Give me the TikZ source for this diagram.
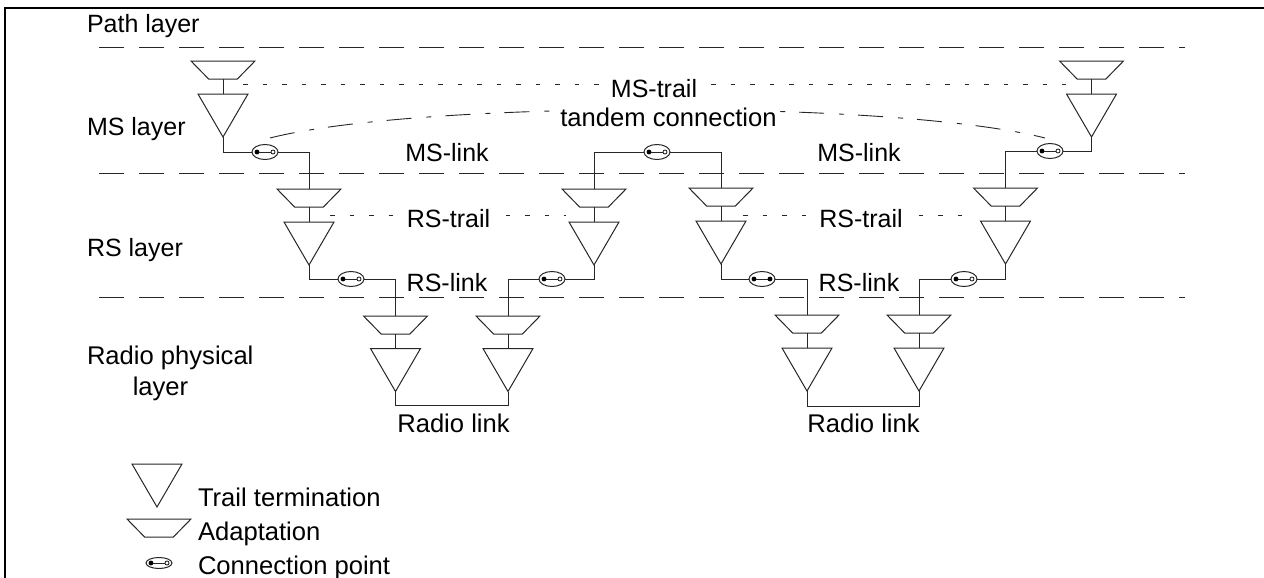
\documentclass[tikz,border=0pt]{standalone}
\usepackage{fontspec}
\setmainfont{Liberation Sans}
\usetikzlibrary{shapes.geometric}
\tikzset{
  x=1pt,y=-1pt,
  line/.style={line width=1pt,black!85},
  adapt/.style={draw,line width=1pt,black!85,trapezium,shape border rotate=180,trapezium stretches=true,
    trapezium left angle=58.5,trapezium right angle=58.5,minimum width=64pt,minimum height=18pt,inner sep=1pt,outer sep=0pt,anchor=north},
  term/.style={draw,line width=1pt,black!85,isosceles triangle,shape border rotate=-90,isosceles triangle stretches=true,
    minimum width=50pt,minimum height=43pt,inner sep=1pt,outer sep=0pt,anchor=north},
  conn/.style={draw,line width=1pt,black!85,ellipse,minimum width=26pt,minimum height=15pt,inner sep=0pt,outer sep=0pt},
  fulldot/.style={circle,fill=black,draw=black,minimum size=4.2pt,inner sep=0pt,line width=.6pt},
  opendot/.style={circle,fill=white,draw=black,minimum size=4pt,inner sep=0pt,line width=.7pt},
  layerline/.style={line width=1pt,black!85,dash pattern=on 25pt off 15pt},
  trailline/.style={line width=1pt,black!85,dash pattern=on 4.5pt off 15pt},
  tandem/.style={line width=.9pt,black!85,dash pattern=on 25pt off 15pt on 5pt off 14pt},
  lbl/.style={font=\fontsize{25}{27}\selectfont,inner sep=0pt,outer sep=0pt,text=black,anchor=base},
  biglbl/.style={lbl,font=\fontsize{25.6}{27}\selectfont},
  wlbl/.style={lbl,fill=white,inner xsep=8pt,inner ysep=1pt},
}
% chain: name, cx, adaptation top, triangle top
\newcommand{\chain}[4]{%
  \node[adapt] (#1a) at (#2,#3) {};
  \node[term] (#1t) at (#2,#4) {};
  \draw[line] (#1a.south) -- (#1t.north);
}
\newcommand{\cpoint}[3]{%
  \node[conn] (#1) at (#2,#3) {};
  \node[fulldot] (#1l) at ([xshift=-8pt]#1.center) {};
  \node[opendot] (#1r) at ([xshift=8pt]#1.center) {};
  \draw[line,line width=.8pt] (#1l) -- (#1r);
}
\begin{document}
\begin{tikzpicture}
\useasboundingbox (0,0) rectangle (1264,578);
\coordinate (fa) at (5,578); \coordinate (fb) at (5,8); \coordinate (fc) at (1264,8);
\draw[line width=2pt,black] (fa) -- (fb) -- (fc);
% layer lines
\coordinate (p0) at (99,47.5); \coordinate (p1) at (1185,47.5);
\coordinate (m0) at (99,173); \coordinate (m1) at (1185,173);
\coordinate (r0) at (99,297); \coordinate (r1) at (1185,297);
\draw[layerline] (p0) -- (p1);
\draw[layerline] (m0) -- (m1);
\draw[layerline] (r0) -- (r1);
% trails
\coordinate (mt0) at (243,85); \coordinate (mt1) at (1066,85);
\coordinate (rt0) at (330,215.5); \coordinate (rt1) at (566,215.5);
\coordinate (rt2) at (743,215.5); \coordinate (rt3) at (975,215.5);
\draw[trailline] (mt0) -- (mt1);
\draw[trailline] (rt0) -- (rt1);
\draw[trailline] (rt2) -- (rt3);
\coordinate (tc0) at (270,138); \coordinate (tc1) at (1045,138);
\draw[tandem] (tc0) .. controls (420,100) and (895,100) .. (tc1);
% chains
\chain{A}{223}{61}{94}
\chain{B}{309}{189}{222}
\chain{C}{395.5}{316}{348.5}
\chain{D}{508}{316}{348.5}
\chain{E}{594}{189}{222}
\chain{F}{721}{188}{221}
\chain{G}{807}{315}{348}
\chain{H}{919}{315}{348}
\chain{I}{1005.5}{188}{221}
\chain{J}{1091.5}{61}{94}
% connection points
\cpoint{ab}{265}{152}
\cpoint{bc}{351}{279}
\cpoint{de}{552}{279}
\cpoint{ef}{657}{152}
\node[conn] (fg) at (762,279) {};
\node[fulldot] (fgl) at ([xshift=-8pt]fg.center) {};
\node[fulldot] (fgr) at ([xshift=8pt]fg.center) {};
\draw[line,line width=.8pt] (fgl) -- (fgr);
\cpoint{hi}{964}{279}
\cpoint{ij}{1050}{151}
% connectors
\draw[line] (At.south) |- (ab.west);
\draw[line] (ab.east) -| (Ba.north);
\draw[line] (Bt.south) |- (bc.west);
\draw[line] (bc.east) -| (Ca.north);
\draw[line] (Ct.south) |- ++(0,14) -| (Dt.south);
\draw[line] (Da.north) |- (de.west);
\draw[line] (de.east) -| (Et.south);
\draw[line] (Ea.north) |- (ef.west);
\draw[line] (ef.east) -| (Fa.north);
\draw[line] (Ft.south) |- (fg.west);
\draw[line] (fg.east) -| (Ga.north);
\draw[line] (Gt.south) |- ++(0,15) -| (Ht.south);
\draw[line] (Ha.north) |- (hi.west);
\draw[line] (hi.east) -| (It.south);
\draw[line] (Ia.north) |- (ij.west);
\draw[line] (ij.east) -| (Jt.south);
% labels
\node[lbl,anchor=base west] (l1) at (87,33) {Path layer};
\node[lbl,anchor=base west] (l2) at (87,135) {MS layer};
\node[lbl,anchor=base west] (l3) at (87,256) {RS layer};
\node[biglbl,anchor=base west] (l4a) at (87,364) {Radio physical};
\node[biglbl] (l4b) at (160.5,395) {layer};
\node[wlbl] (t1) at (654,98) {MS-trail};
\node[wlbl,biglbl] (t2) at (668.5,126) {tandem connection};
\node[wlbl] (t3) at (448.5,227) {RS-trail};
\node[wlbl] (t4) at (861,227) {RS-trail};
\node[lbl] (t5) at (447,161) {MS-link};
\node[lbl] (t6) at (859,161) {MS-link};
\node[lbl] (t7) at (447,291) {RS-link};
\node[lbl] (t8) at (859,291) {RS-link};
\node[biglbl] (t9) at (453.5,432) {Radio link};
\node[biglbl] (t10) at (863.5,432) {Radio link};
% legend
\node[term] (lt) at (157,464) {};
\node[adapt] (la) at (159,519) {};
\node[conn,minimum height=11pt] (lc) at (159,563) {};
\node[fulldot] (lcl) at ([xshift=-8pt]lc.center) {};
\node[opendot] (lcr) at ([xshift=8pt]lc.center) {};
\draw[line,line width=.8pt] (lcl) -- (lcr);
\node[biglbl,anchor=base west] (k1) at (198,506) {Trail termination};
\node[biglbl,anchor=base west] (k2) at (198,540) {Adaptation};
\node[biglbl,anchor=base west] (k3) at (198,574) {Connection point};
\end{tikzpicture}
\end{document}
